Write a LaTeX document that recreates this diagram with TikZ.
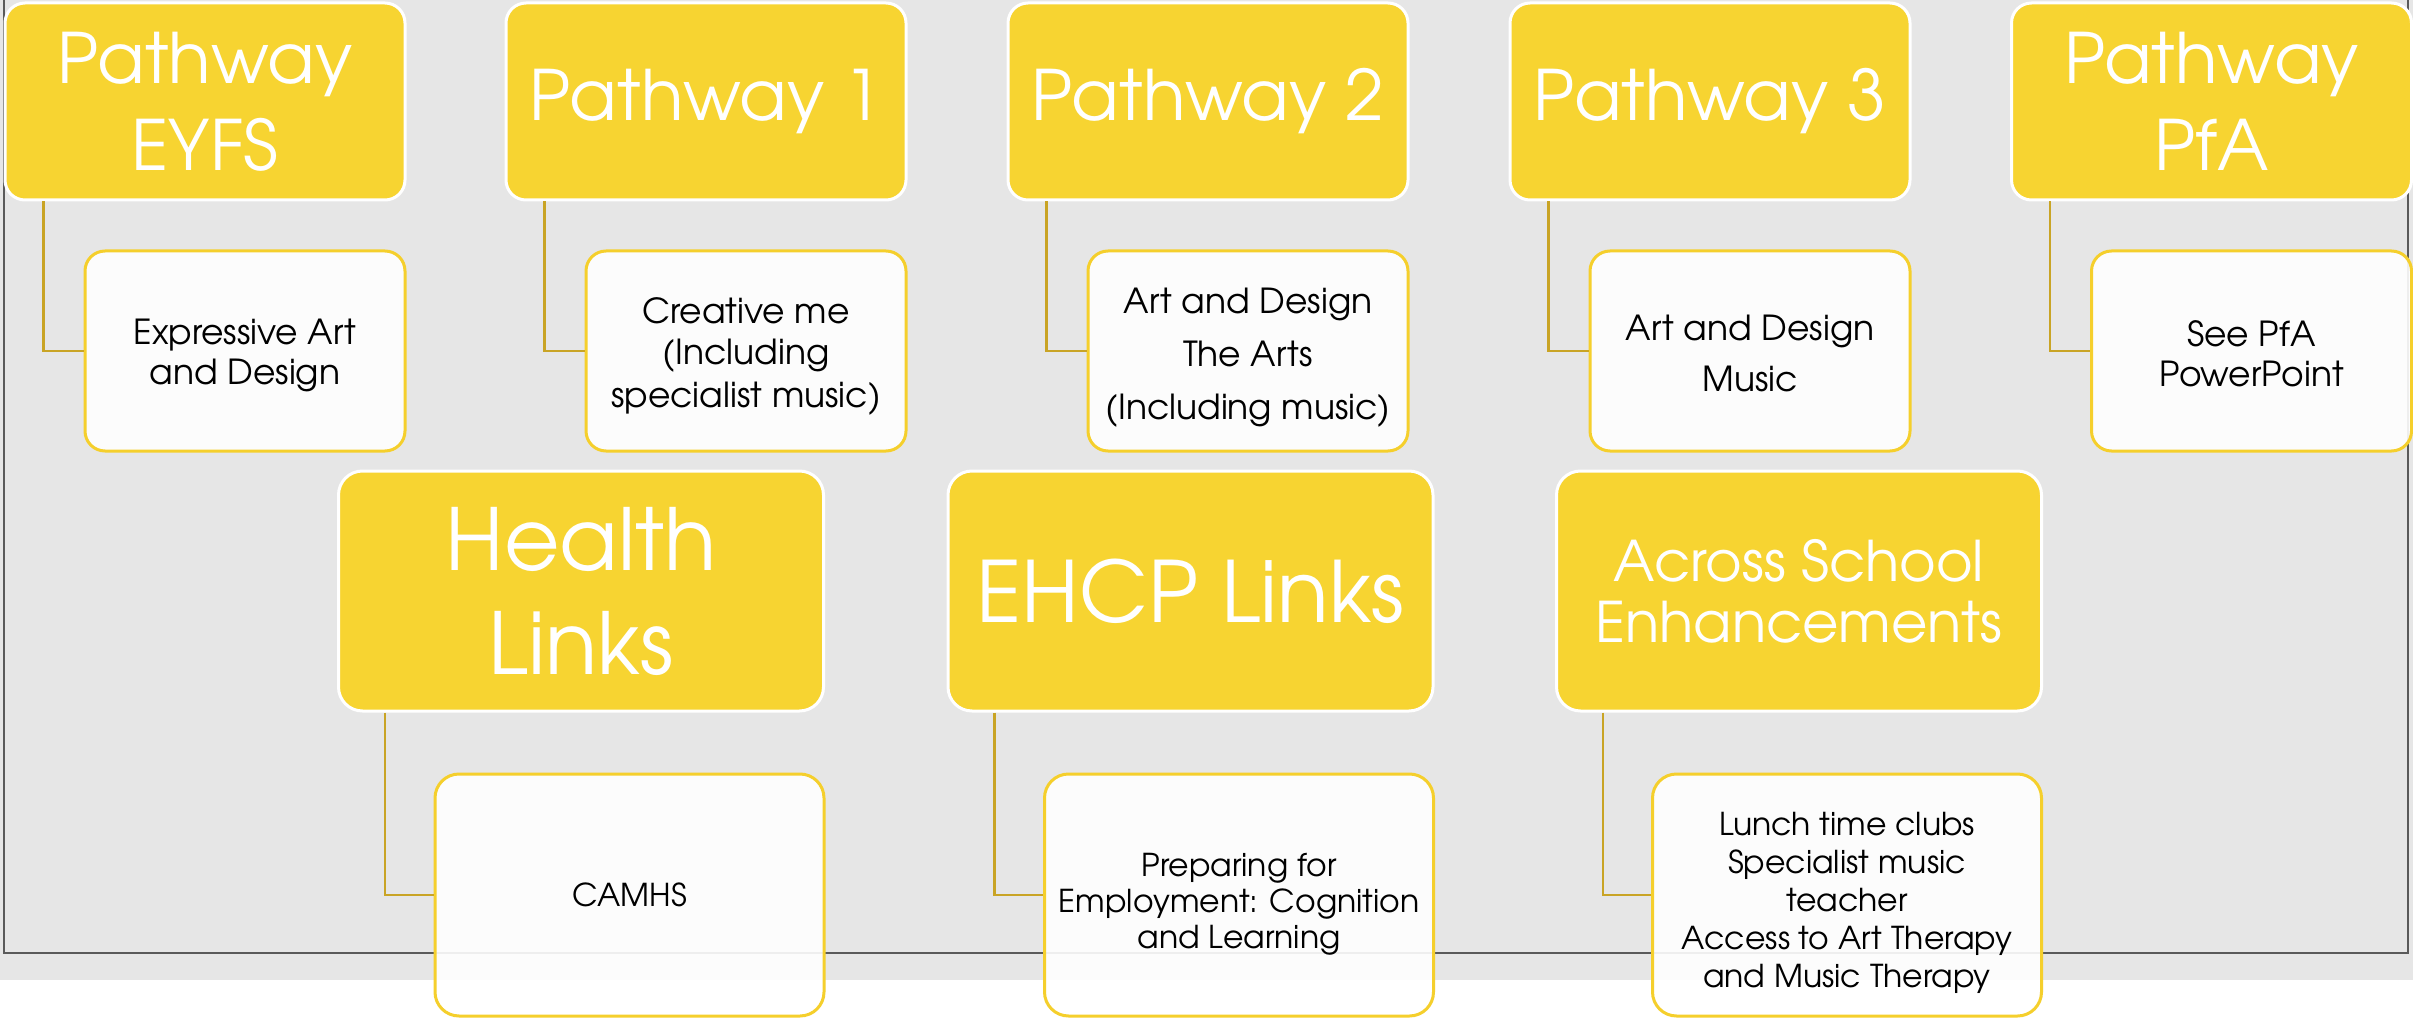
\documentclass[tikz,border=0pt]{standalone}
\usepackage{fontspec}
\setmainfont{TeX Gyre Adventor}
\definecolor{bg}{HTML}{E6E6E6}
\definecolor{ylw}{HTML}{F7D431}
\definecolor{ybord}{HTML}{F5CF2C}
\definecolor{conn}{HTML}{C9A425}
\definecolor{framec}{HTML}{5A5A5A}
\begin{document}
\begin{tikzpicture}[x=1pt,y=-1pt,
 head/.style={draw=white, line width=3pt, fill=ylw, rounded corners=20pt, text=white, align=center, inner sep=0pt, minimum width=400pt, minimum height=197pt, font=\fontsize{69.5}{87}\selectfont},
 sub/.style={draw=ybord, line width=3pt, fill=white, fill opacity=0.9, text opacity=1, rounded corners=20pt, align=center, inner sep=0pt, minimum width=320pt, minimum height=200pt, font=\fontsize{34.5}{40}\selectfont},
 bhead/.style={head, minimum width=485pt, minimum height=240pt, rounded corners=24pt},
 bsub/.style={sub, minimum width=389pt, minimum height=242pt, rounded corners=24pt, font=\fontsize{31.5}{37}\selectfont},
 txt/.style={align=center, inner sep=0pt, font=\fontsize{34.5}{40}\selectfont},
 btxt/.style={txt, font=\fontsize{31.5}{37}\selectfont},
 link/.style={draw=conn, line width=2.5pt}
]
\useasboundingbox (0,0) rectangle (2413,1019);
\fill[bg] (0,0) rectangle (2413,980);
\fill[white] (0,980) rectangle (2413,1019);
\draw[framec, line width=2pt] (4,0) -- (4,953) -- (2408,953) -- (2408,0);

% top row
\node[head] (eyfs) at (205,101.5) {Pathway\\EYFS};
\node[head] (p1) at (706,101.5) {Pathway 1};
\node[head] (p2) at (1208,101.5) {Pathway 2};
\node[head] (p3) at (1710,101.5) {Pathway 3};
\node[head] (pfa) at (2211.5,101.5) {Pathway\\PfA};

\node[sub] (eyfsc) at (245,351) {};
\node[sub] (p1c) at (746,351) {};
\node[sub] (p2c) at (1248,351) {};
\node[sub] (p3c) at (1750,351) {};
\node[sub] (pfac) at (2251.5,351) {};
\node[txt] (eyfst) at ([yshift=-4pt]eyfsc.center) {Expressive Art\\and Design};
\node[txt] (p1t) at ([yshift=-5pt]p1c.center) {Creative me\\[1pt](Including\\[3pt]specialist music)};
\node[txt] (p2t) at ([yshift=-7pt]p2c.center) {Art and Design\\[13pt]The Arts\\[13pt](Including music)};
\node[txt] (p3t) at ([yshift=-2pt]p3c.center) {Art and Design\\[11pt]Music};
\node[txt] (pfat) at ([yshift=-3pt]pfac.center) {See PfA\\PowerPoint};

% bottom row
\node[bhead, font=\fontsize{85.5}{104}\selectfont] (health) at (581,591) {Health\\Links};
\node[bhead, font=\fontsize{84.5}{100}\selectfont] (ehcp) at (1190.5,591) {EHCP Links};
\node[bhead, font=\fontsize{56}{61}\selectfont] (across) at (1799,591) {Across School\\Enhancements};

\node[bsub] (camhs) at (629.5,895) {CAMHS};
\node[bsub] (prep) at (1239,895) {};
\node[bsub] (lunch) at (1847,895) {};
\node[btxt, font=\fontsize{31.5}{36}\selectfont] (prept) at ([yshift=-9pt]prep.center) {Preparing for\\Employment: Cognition\\and Learning};
\node[btxt, font=\fontsize{31.5}{38}\selectfont] (luncht) at ([yshift=-8pt]lunch.center) {Lunch time clubs\\Specialist music\\teacher\\Access to Art Therapy\\and Music Therapy};

% connectors
\draw[link] ([xshift=40pt]eyfs.south west) |- (eyfsc.west);
\draw[link] ([xshift=40pt]p1.south west) |- (p1c.west);
\draw[link] ([xshift=40pt]p2.south west) |- (p2c.west);
\draw[link] ([xshift=40pt]p3.south west) |- (p3c.west);
\draw[link] ([xshift=40pt]pfa.south west) |- (pfac.west);
\draw[link] ([xshift=48pt]health.south west) |- (camhs.west);
\draw[link] ([xshift=48pt]ehcp.south west) |- (prep.west);
\draw[link] ([xshift=48pt]across.south west) |- (lunch.west);
\end{tikzpicture}
\end{document}
